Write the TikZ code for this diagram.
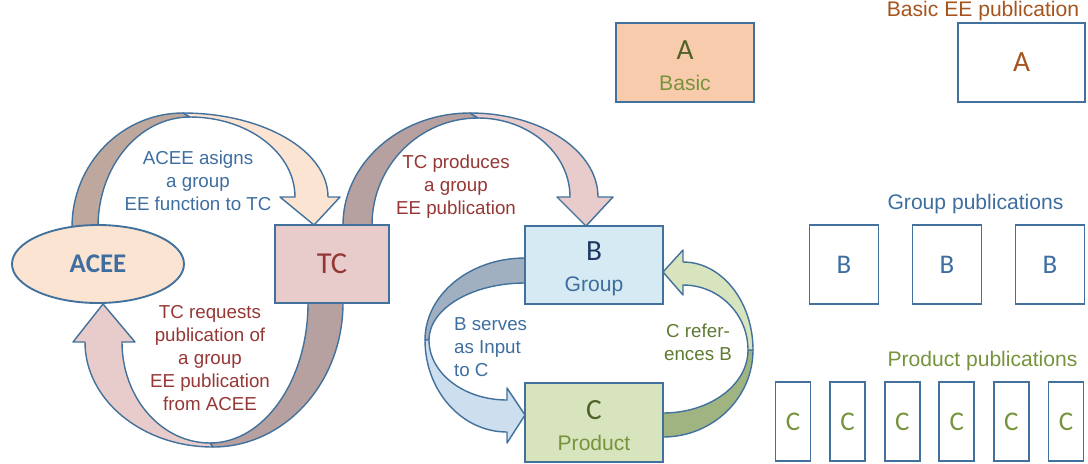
\documentclass[tikz,border=0pt]{standalone}
\usepackage{fontspec}
\setmainfont{Liberation Sans}
\newfontfamily\calib{Carlito}
\usetikzlibrary{shapes.geometric}

\definecolor{edgeblue}{RGB}{65,113,156}
\definecolor{textblue}{RGB}{62,110,160}
\definecolor{navy}{RGB}{31,56,100}
\definecolor{dkred}{RGB}{149,55,53}
\definecolor{dkgreen}{RGB}{79,98,40}
\definecolor{midgreen}{RGB}{119,147,60}
\definecolor{refgreen}{RGB}{95,122,50}
\definecolor{brown}{RGB}{166,84,30}
\definecolor{peach}{RGB}{252,228,210}
\definecolor{peachdk}{RGB}{190,168,158}
\definecolor{tcpink}{RGB}{232,203,203}
\definecolor{mauvedk}{RGB}{183,160,160}
\definecolor{orangefill}{RGB}{248,203,173}
\definecolor{bluefill}{RGB}{213,234,242}
\definecolor{bluelt}{RGB}{205,222,238}
\definecolor{bluedk}{RGB}{160,176,192}
\definecolor{greenfill}{RGB}{215,228,189}
\definecolor{greendk}{RGB}{160,180,130}

\def\pxu{0.03cm}
\newcommand{\letterfont}{\calib\fontsize{25}{26.5}\selectfont\rule{0pt}{22pt}}

\begin{document}
\begin{tikzpicture}[x=0.03cm, y=0.03cm,
    box/.style={draw=edgeblue, line width=1.6pt, inner sep=0pt, align=center,
      font=\fontsize{18}{26.5}\selectfont},
    pubbox/.style={box, fill=white, minimum height=79*\pxu},
    band/.style={draw=edgeblue, line width=1.2pt, line join=round},
    lbl/.style={font=\fontsize{16}{19.6}\selectfont, align=center},
    title/.style={font=\fontsize{18}{20}\selectfont}]

  \useasboundingbox (0,0) rectangle (1088,-463);

  % ACEE -> TC
  \draw[band, fill=peachdk] (72,-240) -- (72,-227) arc[start angle=180, end angle=90, x radius=111, y radius=114]
    -- (190,-117) arc[start angle=90, end angle=180, x radius=92, y radius=110] -- (98,-240) -- cycle;
  \draw[band, fill=peach] (183,-113) arc[start angle=90, end angle=0, x radius=145, y radius=84]
    -- (340,-197) -- (314,-225) -- (280,-197) -- (295,-197)
    arc[start angle=0, end angle=90, x radius=105, y radius=80] -- cycle;

  % TC -> B
  \draw[band, fill=mauvedk] (343,-235) -- (343,-225) arc[start angle=180, end angle=90, x radius=127, y radius=112]
    -- (478,-118) arc[start angle=90, end angle=180, x radius=106, y radius=107] -- (372,-235) -- cycle;
  \draw[band, fill=tcpink] (470,-113) arc[start angle=90, end angle=0, x radius=128, y radius=84]
    -- (613,-197) -- (586,-226) -- (557,-197) -- (570,-197)
    arc[start angle=0, end angle=90, x radius=92, y radius=79] -- cycle;

  % TC -> ACEE
  \draw[band, fill=mauvedk] (343,-295) -- (343,-303) arc[start angle=0, end angle=-90, x radius=130, y radius=144]
    -- (210,-443) arc[start angle=270, end angle=360, x radius=98, y radius=140] -- (308,-295) -- cycle;
  \draw[band, fill=tcpink] (213,-447) arc[start angle=-90, end angle=-180, x radius=128, y radius=105]
    -- (73,-342) -- (103,-304) -- (135,-342) -- (122,-342)
    arc[start angle=180, end angle=270, x radius=88, y radius=101] -- cycle;

  % B -> C
  \draw[band, fill=bluedk] (535,-258) -- (525,-258) arc[start angle=90, end angle=180, x radius=100, y radius=82]
    -- (429,-340) arc[start angle=180, end angle=90, x radius=96, y radius=57] -- (535,-283) -- cycle;
  \draw[band, fill=bluelt] (425,-340) arc[start angle=180, end angle=270, x radius=82, y radius=92]
    -- (507,-443) -- (525,-415) -- (507,-388) -- (507,-400)
    arc[start angle=270, end angle=180, x radius=78, y radius=60] -- cycle;

  % C -> B
  \draw[band, fill=greendk] (653,-437) -- (663,-437) arc[start angle=-90, end angle=0, x radius=90, y radius=87]
    -- (748,-350) arc[start angle=0, end angle=-90, x radius=85, y radius=63] -- (653,-413) -- cycle;
  \draw[band, fill=greenfill] (753,-350) arc[start angle=0, end angle=90, x radius=70, y radius=88]
    -- (683,-250) -- (663,-272) -- (683,-295) -- (683,-285)
    arc[start angle=90, end angle=0, x radius=65, y radius=65] -- cycle;

  % main nodes
  \node[box, ellipse, fill=peach, minimum width=172*\pxu, minimum height=78*\pxu, text=textblue,
    font=\calib\bfseries\fontsize{23}{26}\selectfont] (acee) at (98,-264) {ACEE};
  \node[box, fill=tcpink, minimum width=114*\pxu, minimum height=78*\pxu, text=dkred,
    font=\calib\fontsize{26}{28}\selectfont] (tc) at (332,-264) {TC};
  \node[box, fill=orangefill, minimum width=138*\pxu, minimum height=79*\pxu] (basic) at (685,-62.5)
    {{\letterfont\color{dkgreen}A}\\\color{midgreen}Basic};
  \node[box, fill=bluefill, minimum width=138*\pxu, minimum height=78*\pxu] (group) at (594,-265)
    {{\letterfont\color{navy}B}\\\color{textblue}Group};
  \node[box, fill=greenfill, minimum width=138*\pxu, minimum height=79*\pxu] (product) at (594,-422.5)
    {{\letterfont\color{dkgreen}C}\\\color{midgreen}Product};

  % arrow labels
  \node[lbl, text=textblue] (assign) at (198,-181) {ACEE asigns\\a group\\EE function to TC};
  \node[lbl, text=dkred] (request) at (210,-358) {TC requests\\publication of\\a group\\EE publication\\from ACEE};
  \node[lbl, text=dkred] (produce) at (456,-187) {TC produces\\a group\\EE publication};
  \node[lbl, text=textblue, align=left, anchor=west] (serve) at (450,-347) {B serves\\as Input\\to C};
  \node[lbl, text=refgreen] (refer) at (698,-342) {C refer-\\ences B};

  % publications
  \node[title, text=brown] (basictitle) at (983,-11) {Basic EE publication};
  \node[pubbox, minimum width=127*\pxu, text=brown, font=\calib\fontsize{25}{26}\selectfont] (pubA) at (1021.5,-62.5) {A};

  \node[title, text=textblue] (grouptitle) at (975.5,-204) {Group publications};
  \foreach \x [count=\i] in {844,947,1050}
    \node[pubbox, minimum width=69*\pxu, text=textblue, font=\calib\fontsize{23}{24}\selectfont] (pubB\i) at (\x,-264.5) {B};

  \node[title, text=midgreen] (prodtitle) at (982.5,-361) {Product publications};
  \foreach \i in {0,...,5}
    \node[pubbox, minimum width=35*\pxu, text=midgreen, font=\calib\fontsize{23}{24}\selectfont] (pubC\i) at (793+54.6*\i,-421.5) {C};
\end{tikzpicture}
\end{document}
